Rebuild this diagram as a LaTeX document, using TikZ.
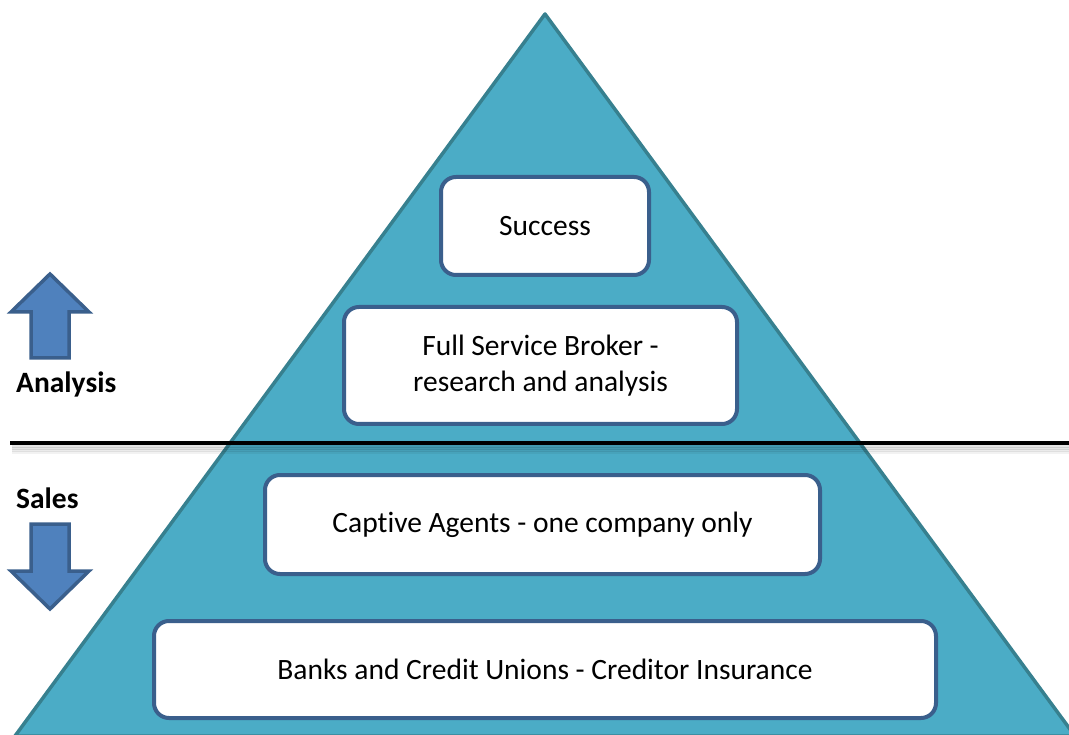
\documentclass[tikz,border=0pt]{standalone}
\usepackage{fontspec}
\setmainfont[Ligatures=NoCommon]{Carlito}
\usetikzlibrary{positioning,calc}
\definecolor{aqua}{HTML}{4BACC6}
\definecolor{aquadark}{HTML}{37808F}
\definecolor{boxline}{HTML}{3A5F8C}
\definecolor{arrowfill}{HTML}{4F81BD}
\tikzset{
  level/.style={draw=boxline,line width=4pt,fill=white,rounded corners=15pt,align=center,inner sep=0pt,font=\fontsize{29.5}{36}\selectfont},
  side/.style={anchor=base west,inner sep=0pt,font=\fontsize{29.5}{36}\selectfont\bfseries},
  updown/.style={draw=boxline,line width=3.5pt,fill=arrowfill,line join=miter}
}
\begin{document}
\begin{tikzpicture}[x=1pt,y=-1pt]
\useasboundingbox (0,0) rectangle (1069,735);
\coordinate (top) at (545,14);
\coordinate (right) at (1075,736);
\coordinate (left) at (15,736);
\draw[fill=aqua,draw=aquadark,line width=3.5pt,line join=round] (top) -- (right) -- (left) -- cycle;
% divider with its shadow
\foreach \d/\o in {3/0.10,5/0.10,7/0.08,9/0.05}
  \draw[line width=3pt,black,opacity=\o] (12,443+\d) -- (1069,443+\d);
\draw[line width=4.5pt] (10,443) -- (1069,443);
% levels
\node[level,minimum width=208pt,minimum height=98pt] (success) at (545,226) {Success};
\node[level,minimum width=393pt,minimum height=117pt] (broker) at (540.5,365.5) {Full Service Broker -\\research and analysis};
\node[level,minimum width=555pt,minimum height=99pt] (captive) at (542.5,524.5) {Captive Agents - one company only};
\node[level,minimum width=782pt,minimum height=97pt] (banks) at (545,669.5) {Banks and Credit Unions - Creditor Insurance};
% side labels and arrows
\node[side] (analysis) at (16,393) {Analysis};
\node[side] (sales) at (16,508) {Sales};
\draw[updown] (50,274) -- (89,312) -- (69,312) -- (69,358) -- (31,358) -- (31,312) -- (11,312) -- cycle;
\draw[updown] (50,609) -- (89,571) -- (69,571) -- (69,524) -- (31,524) -- (31,571) -- (11,571) -- cycle;
\end{tikzpicture}
\end{document}
